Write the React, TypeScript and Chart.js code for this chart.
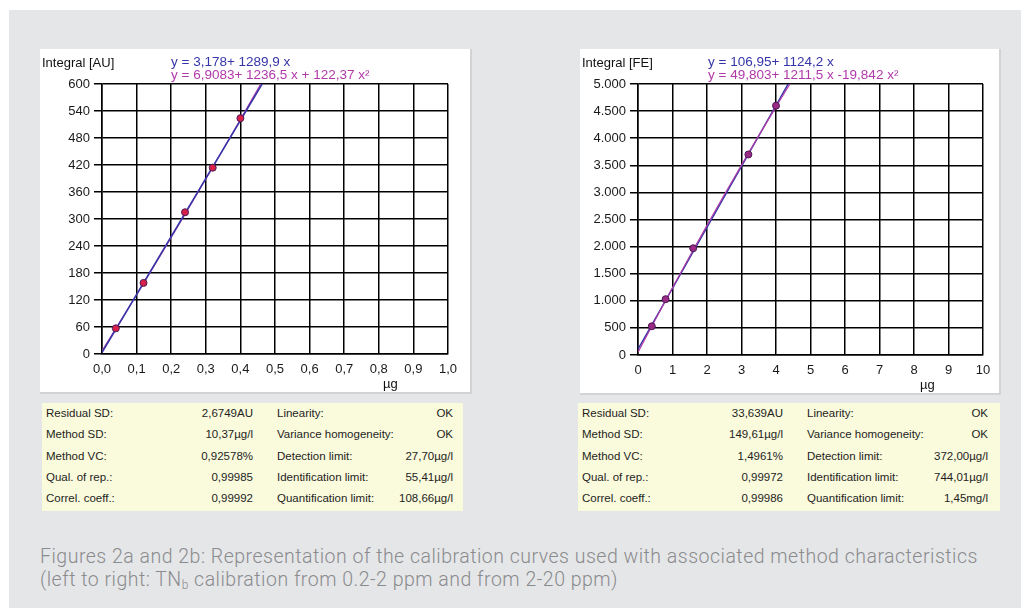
import React, { useEffect, useRef } from "react";
import { Chart, registerables } from "chart.js";

Chart.register(...registerables);

// ---------- Data ----------
const leftStdX = [0.04, 0.12, 0.24, 0.32, 0.4];
const leftStdY = [57, 158, 315, 414, 524];
const leftLinX = [0, 0.4627];
const leftLinY = [3.2, 600];
const leftQuadX = [0, 0.1, 0.2, 0.3, 0.4, 0.46];
const leftQuadY = [6.9, 131.8, 259.1, 388.9, 521.1, 601.6];

const rightStdX = [0.4, 0.8, 1.6, 3.2, 4.0];
const rightStdY = [530, 1030, 1970, 3700, 4600];
const rightLinX = [0, 4.352];
const rightLinY = [107, 5000];
const rightQuadX = [0, 1, 2, 3, 4, 4.4];
const rightQuadY = [49.8, 1241.5, 2393.4, 3505.7, 4578.3, 4996];

const leftEqLin = "y = 3,178+ 1289,9 x";
const leftEqQuad = "y = 6,9083+ 1236,5 x + 122,37 x²";
const rightEqLin = "y = 106,95+ 1124,2 x";
const rightEqQuad = "y = 49,803+ 1211,5 x -19,842 x²";

const leftTableLabels1 = ["Residual SD:", "Method SD:", "Method VC:", "Qual. of rep.:", "Correl. coeff.:"];
const leftTableValues1 = ["2,6749AU", "10,37µg/l", "0,92578%", "0,99985", "0,99992"];
const leftTableLabels2 = ["Linearity:", "Variance homogeneity:", "Detection limit:", "Identification limit:", "Quantification limit:"];
const leftTableValues2 = ["OK", "OK", "27,70µg/l", "55,41µg/l", "108,66µg/l"];

const rightTableLabels1 = ["Residual SD:", "Method SD:", "Method VC:", "Qual. of rep.:", "Correl. coeff.:"];
const rightTableValues1 = ["33,639AU", "149,61µg/l", "1,4961%", "0,99972", "0,99986"];
const rightTableLabels2 = ["Linearity:", "Variance homogeneity:", "Detection limit:", "Identification limit:", "Quantification limit:"];
const rightTableValues2 = ["OK", "OK", "372,00µg/l", "744,01µg/l", "1,45mg/l"];

const captionLine1 = "Figures 2a and 2b: Representation of the calibration curves used with associated method characteristics";
const captionLine2a = "(left to right: TN";
const captionSub = "b";
const captionLine2b = " calibration from 0.2-2 ppm and from 2-20 ppm)";

const pts = (xs: number[], ys: number[]) => xs.map((x, i) => ({ x, y: ys[i] }));

const FONT = "'Liberation Sans', Arial, sans-serif";
const BLUE = "#3535a8";
const MAGENTA = "#b03aa8";

type ChartSpec = {
  width: number;
  height: number;
  xMax: number;
  xStep: number;
  yMax: number;
  yStep: number;
  xFmt: (v: number) => string;
  yFmt: (v: number) => string;
  pad: { top: number; right: number };
  yWidth: number;
  xHeight: number;
  std: { x: number; y: number }[];
  lin: { x: number; y: number }[];
  quad: { x: number; y: number }[];
  pointBg: string;
  quadOnTop: boolean;
};

function CalChart({ spec }: { spec: ChartSpec }) {
  const ref = useRef<HTMLCanvasElement>(null);
  useEffect(() => {
    if (!ref.current) return;
    const tickFont = { family: FONT, size: 13 };
    const chart = new Chart(ref.current, {
      type: "scatter",
      data: {
        datasets: [
          {
            label: "standards",
            data: spec.std,
            pointRadius: 3.5,
            pointBackgroundColor: spec.pointBg,
            pointBorderColor: "#4a1a55",
            pointBorderWidth: 1,
            showLine: false,
            order: 0,
          },
          {
            label: "linear",
            data: spec.lin,
            showLine: true,
            borderColor: BLUE,
            borderWidth: 1.5,
            pointRadius: 0,
            order: spec.quadOnTop ? 2 : 1,
          },
          {
            label: "quadratic",
            data: spec.quad,
            showLine: true,
            borderColor: MAGENTA,
            borderWidth: 1.2,
            pointRadius: 0,
            tension: 0.4,
            order: spec.quadOnTop ? 1 : 2,
          },
        ],
      },
      options: {
        animation: false,
        responsive: false,
        maintainAspectRatio: false,
        layout: { padding: { left: 0, top: spec.pad.top, right: spec.pad.right, bottom: 0 } },
        plugins: { legend: { display: false }, tooltip: { enabled: false } },
        scales: {
          x: {
            type: "linear",
            min: 0,
            max: spec.xMax,
            afterFit: (s: any) => {
              s.height = spec.xHeight;
            },
            ticks: {
              stepSize: spec.xStep,
              autoSkip: false,
              maxRotation: 0,
              padding: 8,
              color: "#1a1a1a",
              font: tickFont,
              callback: (v: any) => spec.xFmt(Number(v)),
            },
            grid: { color: "#000", lineWidth: 1.5, drawTicks: false },
            border: { color: "#000", width: 1.5 },
          },
          y: {
            type: "linear",
            min: 0,
            max: spec.yMax,
            afterFit: (s: any) => {
              s.width = spec.yWidth;
            },
            ticks: {
              stepSize: spec.yStep,
              autoSkip: false,
              padding: 4,
              color: "#1a1a1a",
              font: tickFont,
              callback: (v: any) => spec.yFmt(Number(v)),
            },
            grid: { color: "#000", lineWidth: 1.5, tickLength: 8 },
            border: { color: "#000", width: 1.5 },
          },
        },
      },
    });
    return () => chart.destroy();
  }, [spec]);
  return <canvas ref={ref} width={spec.width} height={spec.height} style={{ position: "absolute", left: 0, top: 0 }} />;
}

const leftSpec: ChartSpec = {
  width: 430,
  height: 343,
  xMax: 1,
  xStep: 0.1,
  yMax: 600,
  yStep: 60,
  xFmt: (v) => v.toFixed(1).replace(".", ","),
  yFmt: (v) => String(Math.round(v)),
  pad: { top: 35, right: 22 },
  yWidth: 62,
  xHeight: 38,
  std: pts(leftStdX, leftStdY),
  lin: pts(leftLinX, leftLinY),
  quad: pts(leftQuadX, leftQuadY),
  pointBg: "#d8204a",
  quadOnTop: false,
};

const rightSpec: ChartSpec = {
  width: 419,
  height: 344,
  xMax: 10,
  xStep: 1,
  yMax: 5000,
  yStep: 500,
  xFmt: (v) => String(Math.round(v)),
  yFmt: (v) => {
    const n = Math.round(v);
    return n >= 1000 ? Math.floor(n / 1000) + "." + String(n % 1000).padStart(3, "0") : String(n);
  },
  pad: { top: 35, right: 16 },
  yWidth: 58,
  xHeight: 38,
  std: pts(rightStdX, rightStdY),
  lin: pts(rightLinX, rightLinY),
  quad: pts(rightQuadX, rightQuadY),
  pointBg: "#9a2a85",
  quadOnTop: true,
};

function Table({
  left, top, width, labels1, values1, labels2, values2, v1Right, l2Left, v2Right,
}: {
  left: number; top: number; width: number;
  labels1: string[]; values1: string[]; labels2: string[]; values2: string[];
  v1Right: number; l2Left: number; v2Right: number;
}) {
  const rowH = 21.3;
  return (
    <div
      style={{
        position: "absolute",
        left,
        top,
        width,
        height: 108,
        background: "#fafadc",
        fontFamily: FONT,
        fontSize: 11.5,
        color: "#1e1e1e",
      }}
    >
      {labels1.map((l, i) => (
        <React.Fragment key={i}>
          <div style={{ position: "absolute", left: 4, top: 0 + i * rowH, lineHeight: rowH + "px", whiteSpace: "nowrap" }}>{l}</div>
          <div style={{ position: "absolute", right: width - v1Right, top: i * rowH, lineHeight: rowH + "px", whiteSpace: "nowrap" }}>{values1[i]}</div>
          <div style={{ position: "absolute", left: l2Left, top: i * rowH, lineHeight: rowH + "px", whiteSpace: "nowrap" }}>{labels2[i]}</div>
          <div style={{ position: "absolute", right: width - v2Right, top: i * rowH, lineHeight: rowH + "px", whiteSpace: "nowrap" }}>{values2[i]}</div>
        </React.Fragment>
      ))}
    </div>
  );
}

function Panel({
  left, width, height, spec, yTitle, eq1, eq2, eqLeft, unitLeft,
}: {
  left: number; width: number; height: number; spec: ChartSpec;
  yTitle: string; eq1: string; eq2: string; eqLeft: number; unitLeft: number;
}) {
  return (
    <div
      style={{
        position: "absolute",
        left,
        top: 49,
        width,
        height,
        background: "#fff",
        boxShadow: "1px 1px 0 1px #d2d3d5",
      }}
    >
      <CalChart spec={spec} />
      <div style={{ position: "absolute", left: 2, top: 6, fontFamily: FONT, fontSize: 13, color: "#111", whiteSpace: "nowrap" }}>{yTitle}</div>
      <div style={{ position: "absolute", left: eqLeft, top: 5, fontFamily: FONT, fontSize: 13.5, color: BLUE, whiteSpace: "nowrap" }}>{eq1}</div>
      <div style={{ position: "absolute", left: eqLeft, top: 18, fontFamily: FONT, fontSize: 13.5, color: MAGENTA, whiteSpace: "nowrap" }}>{eq2}</div>
      <div style={{ position: "absolute", left: unitLeft, top: height - 16, fontFamily: FONT, fontSize: 13, color: "#111", lineHeight: "15px" }}>µg</div>
    </div>
  );
}

export default function App() {
  return (
    <div style={{ position: "absolute", left: 0, top: 0, width: 1021, height: 608, background: "#fff", overflow: "hidden" }}>
      <div style={{ position: "absolute", left: 9, top: 10, width: 1012, height: 598, background: "#e5e6e8" }} />
      <Panel left={40} width={430} height={343} spec={leftSpec} yTitle="Integral [AU]" eq1={leftEqLin} eq2={leftEqQuad} eqLeft={131} unitLeft={343} />
      <Panel left={580} width={419} height={344} spec={rightSpec} yTitle="Integral [FE]" eq1={rightEqLin} eq2={rightEqQuad} eqLeft={128} unitLeft={340} />
      <Table left={42} top={403} width={421} labels1={leftTableLabels1} values1={leftTableValues1} labels2={leftTableLabels2} values2={leftTableValues2} v1Right={211} l2Left={235} v2Right={411} />
      <Table left={578} top={403} width={422} labels1={rightTableLabels1} values1={rightTableValues1} labels2={rightTableLabels2} values2={rightTableValues2} v1Right={205} l2Left={229} v2Right={410} />
      <div style={{ position: "absolute", left: 40, top: 545, fontFamily: "Roboto, 'Noto Sans', sans-serif", fontWeight: 300, fontSize: 19.5, letterSpacing: "0.5px", color: "#8a8b8d", lineHeight: "23px", whiteSpace: "nowrap" }}>
        <div>{captionLine1}</div>
        <div>
          {captionLine2a}
          <sub style={{ fontSize: 12, verticalAlign: "-3px" }}>{captionSub}</sub>
          {captionLine2b}
        </div>
      </div>
    </div>
  );
}
